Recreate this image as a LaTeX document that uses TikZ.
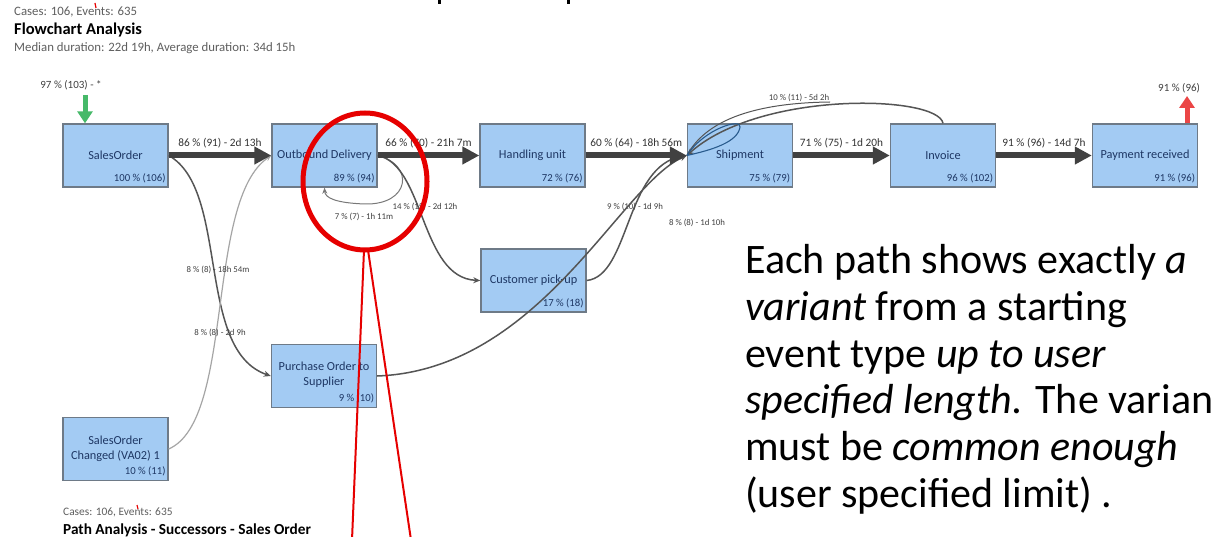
\documentclass[tikz,border=0pt]{standalone}
\usepackage{fontspec}
\setmainfont{Carlito}
\usetikzlibrary{arrows.meta}
\definecolor{boxfill}{RGB}{163,203,243}
\definecolor{boxline}{RGB}{110,122,135}
\definecolor{boxtext}{RGB}{30,55,100}
\definecolor{edgec}{RGB}{65,65,65}
\definecolor{thinc}{RGB}{85,85,85}
\definecolor{lightc}{RGB}{165,165,165}
\definecolor{loopc}{RGB}{120,120,120}
\definecolor{bluec}{RGB}{40,90,140}
\definecolor{hdrc}{RGB}{95,95,95}
\definecolor{startg}{RGB}{70,185,105}
\definecolor{endr}{RGB}{235,70,70}
\definecolor{markr}{RGB}{230,0,0}
\begin{document}
\begin{tikzpicture}[x=1pt,y=-1pt,
  box/.style={draw=boxline, line width=1.4pt, fill=boxfill, minimum width=105pt, minimum height=63pt, inner sep=0pt},
  nm/.style={text=boxtext, font=\fontsize{12.3}{15}\selectfont, align=center, inner sep=0pt},
  pc/.style={text=boxtext, font=\fontsize{10.7}{12}\selectfont, inner sep=0pt, anchor=base east},
  thickarr/.style={draw=edgec, line width=6pt, -{Triangle[length=17pt,width=17pt]}},
  lbl/.style={text=black!80, font=\fontsize{11.3}{13}\selectfont, inner sep=0pt},
  slbl/.style={text=black!75, font=\fontsize{8.8}{10}\selectfont, inner sep=0pt},
  thinarr/.style={draw=thinc, line width=1.5pt, -{Stealth[length=7pt,width=6pt]}},
  lightarr/.style={draw=lightc, line width=1.2pt, -{Stealth[length=6pt,width=5pt]}},
  looparr/.style={draw=loopc, line width=1pt, -{Stealth[length=6pt,width=5pt]}},
  hdr/.style={text=hdrc, font=\fontsize{12.8}{14}\selectfont, inner sep=0pt, anchor=west},
  ttl/.style={text=black, font=\bfseries\fontsize{16.5}{18}\selectfont, inner sep=0pt, anchor=west},
  big/.style={text=black, font=\fontsize{42}{47}\selectfont, inner sep=0pt, anchor=base west}
]
\useasboundingbox (0,0) rectangle (1215,537);
\fill[white] (0,0) rectangle (1215,537);

% fragments of a cut-off title
\fill[black] (438,0) rectangle (440.5,4);
\fill[black] (567,0) rectangle (569.5,4);

% header
\node[hdr] (h1) at (14,12) {Cases: 106, Events: 635};
\draw[markr, line width=1.2pt] (95,3) -- (96,8);
\node[ttl] (h2) at (14,30) {Flowchart Analysis};
\node[hdr] (h3) at (14,48) {Median duration: 22d 19h, Average duration: 34d 15h};

% nodes
\node[box] (so) at (115.5,155.5) {};
\node[box] (ob) at (324.5,155.5) {};
\node[box] (hu) at (532.5,155.5) {};
\node[box] (sh) at (740,155.5) {};
\node[box] (inv) at (943,155.5) {};
\node[box] (pr) at (1145,155.5) {};
\node[box] (cp) at (533.5,280.5) {};
\node[box] (po) at (324,376) {};
\node[box] (ch) at (115.5,449) {};

\node[nm] at (so.center) {SalesOrder};
\node[pc] at ([xshift=-3pt,yshift=6pt]so.south east) {100 \% (106)};
\node[nm] at (ob.center) {Outbound Delivery};
\node[pc] at ([xshift=-3pt,yshift=6pt]ob.south east) {89 \% (94)};
\node[nm] at (hu.center) {Handling unit};
\node[pc] at ([xshift=-3pt,yshift=6pt]hu.south east) {72 \% (76)};
\node[nm] at (sh.center) {Shipment};
\node[pc] at ([xshift=-3pt,yshift=6pt]sh.south east) {75 \% (79)};
\node[nm] at (inv.center) {Invoice};
\node[pc] at ([xshift=-3pt,yshift=6pt]inv.south east) {96 \% (102)};
\node[nm] at (pr.center) {Payment received};
\node[pc] at ([xshift=-3pt,yshift=6pt]pr.south east) {91 \% (96)};
\node[nm] at (cp.center) {Customer pick-up};
\node[pc] at ([xshift=-3pt,yshift=6pt]cp.south east) {17 \% (18)};
\node[nm] at ([yshift=1pt]po.center) {Purchase Order to\\Supplier};
\node[pc] at ([xshift=-3pt,yshift=7pt]po.south east) {9 \% (10)};
\node[nm] at (ch.center) {SalesOrder\\Changed (VA02) 1};
\node[pc] at ([xshift=-3pt,yshift=7pt]ch.south east) {10 \% (11)};

% start / end arrows
\coordinate (gs) at (85,95);
\draw[draw=startg, line width=5pt, -{Triangle[length=12pt,width=15pt]}] (gs) -- (gs |- so.north);
\node[slbl, font=\fontsize{11}{12}\selectfont] at (71,85) {97 \% (103) - *};
\coordinate (re) at (1187,96);
\draw[draw=endr, line width=5pt, -{Triangle[length=12pt,width=15pt]}] (re |- pr.north) -- (re);
\node[slbl, font=\fontsize{11}{12}\selectfont, anchor=west] at (1158,88) {91 \% (96)};

% curved edges
\draw[thinarr] (so.east) .. controls (230,190) and (195,350) .. (po.west);
\draw[lightarr] (ch.east) .. controls (235,420) and (205,200) .. (ob.west);
\node[slbl] at (218,270) {8 \% (8) - 18h 54m};
\node[slbl] at (220,333) {8 \% (8) - 2d 9h};

\draw[looparr] (ob.east) .. controls (415,165) and (410,205) .. (365,204) .. controls (336,203) and (325,198) .. (ob.south);
\node[slbl] at (364,217) {7 \% (7) - 1h 11m};

\draw[thinarr] (ob.east) .. controls (425,165) and (420,278) .. (cp.west);
\node[slbl] at (425,207) {14 \% (15) - 2d 12h};

\draw[thinarr] (cp.east) .. controls (630,276) and (625,165) .. (sh.west);
\node[slbl] at (635,207) {9 \% (10) - 1d 9h};
\draw[thinarr] (po.east) .. controls (540,370) and (620,185) .. (sh.west);
\node[slbl] at (697,223) {8 \% (8) - 1d 10h};

\draw[thinarr] (inv.north) .. controls (938,95) and (760,90) .. (sh.west);
\coordinate (arcj) at (830,102);
\draw[draw=thinc, line width=1pt] (sh.west) .. controls (705,122) and (750,103) .. (arcj);
\node[slbl] at (799,98) {10 \% (11) - 5d 2h};
\draw[draw=bluec, line width=1.1pt] (sh.west) .. controls (712,150) and (738,142) .. (740,127) .. controls (742,118) and (705,128) .. (sh.west);

% main thick arrows
\draw[thickarr] (so.east) -- node[lbl, midway, yshift=12.5pt] {86 \% (91) - 2d 13h} (ob.west);
\draw[thickarr] (ob.east) -- node[lbl, midway, yshift=12.5pt] {66 \% (70) - 21h 7m} (hu.west);
\draw[thickarr] (hu.east) -- node[lbl, midway, yshift=12.5pt] {60 \% (64) - 18h 56m} (sh.west);
\draw[thickarr] (sh.east) -- node[lbl, midway, yshift=12.5pt] {71 \% (75) - 1d 20h} (inv.west);
\draw[thickarr] (inv.east) -- node[lbl, midway, yshift=12.5pt] {91 \% (96) - 14d 7h} (pr.west);

% bottom header
\node[hdr, font=\fontsize{11.4}{13}\selectfont] (b1) at (63,512) {Cases: 106, Events: 635};
\draw[markr, line width=1.2pt] (137,505) -- (138,509);
\node[ttl, font=\bfseries\fontsize{15.3}{17}\selectfont] (b2) at (63,530) {Path Analysis - Successors - Sales Order};

% right text
\node[big] (t1) at (745,273) {Each path shows exactly \textit{a}};
\node[big] (t2) at (745,320) {\textit{variant} from a starting};
\node[big] (t3) at (745,367) {event type \textit{up to user}};
\node[big] (t4) at (745,413) {\textit{specified length.} The varian};
\node[big] (t5) at (745,460) {must be \textit{common enough}};
\node[big] (t6) at (745,507) {(user specified limit) .};

% red highlight
\draw[markr, line width=5pt] (365,181.5) ellipse [x radius=62, y radius=68.5];
\coordinate (r1) at (364,250);
\coordinate (r2) at (368,250);
\coordinate (r3) at (352,540);
\coordinate (r4) at (411,540);
\draw[markr, line width=2pt] (r1) -- (r3);
\draw[markr, line width=2pt] (r2) -- (r4);
\end{tikzpicture}
\end{document}
